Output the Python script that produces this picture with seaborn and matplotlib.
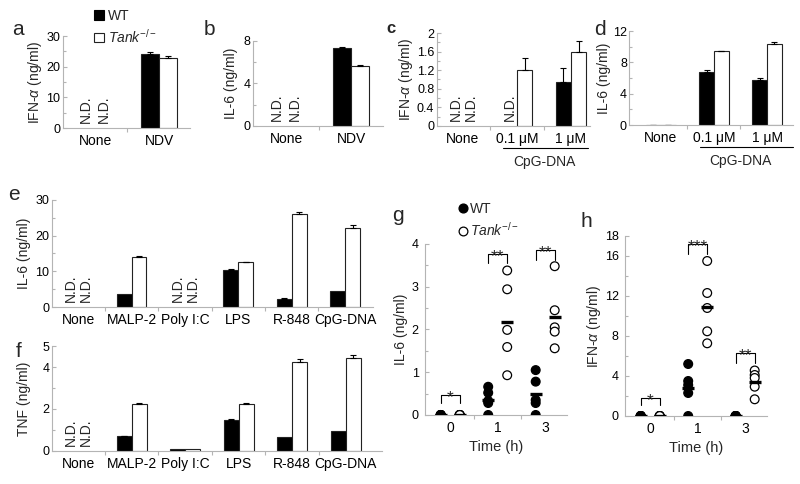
import numpy as np
import pandas as pd
import seaborn as sns
import matplotlib.pyplot as plt
from matplotlib.lines import Line2D
from matplotlib.patches import Patch
from matplotlib import transforms

sns.set_theme(style='ticks')
plt.rcParams['font.family'] = ['Liberation Sans', 'DejaVu Sans']
plt.rcParams['mathtext.fontset'] = 'custom'
plt.rcParams['mathtext.rm'] = 'Liberation Sans'
plt.rcParams['mathtext.it'] = 'Liberation Sans:italic'
plt.rcParams['mathtext.bf'] = 'Liberation Sans:bold'

nd = np.nan

# a, b: NDV
ndv_cats = ['None', 'NDV']
a_wt = [nd, 24.0]
a_ko = [nd, 23.0]
a_wt_err = [nd, 0.7]
a_ko_err = [nd, 0.5]
b_wt = [nd, 7.3]
b_ko = [nd, 5.6]
b_wt_err = [nd, 0.15]
b_ko_err = [nd, 0.12]

# c, d: CpG-DNA doses
cpg_cats = ['None', '0.1 μM', '1 μM']
c_wt = [nd, nd, 0.95]
c_ko = [nd, 1.2, 1.6]
c_wt_err = [nd, nd, 0.3]
c_ko_err = [nd, 0.26, 0.22]
d_wt = [0.0, 6.8, 5.8]
d_ko = [0.0, 9.4, 10.4]
d_wt_err = [0.0, 0.2, 0.15]
d_ko_err = [0.0, 0.06, 0.2]

# e, f: ligands
lig_cats = ['None', 'MALP-2', 'Poly I:C', 'LPS', 'R-848', 'CpG-DNA']
e_wt = [nd, 3.6, nd, 10.4, 2.2, 4.4]
e_ko = [nd, 13.9, nd, 12.5, 26.0, 22.2]
e_wt_err = [nd, nd, nd, 0.2, 0.2, nd]
e_ko_err = [nd, 0.5, nd, 0.2, 0.7, 0.7]
f_wt = [nd, 0.7, 0.08, 1.47, 0.65, 0.97]
f_ko = [nd, 2.22, 0.08, 2.22, 4.25, 4.45]
f_wt_err = [nd, 0.03, nd, 0.03, nd, nd]
f_ko_err = [nd, 0.07, nd, 0.07, 0.15, 0.12]

# g, h: time course, five mice per group
times = ['0', '1', '3']
g_wt = {'0': [0, 0, 0, 0, 0], '1': [0.66, 0.52, 0.33, 0.28, 0.0], '3': [1.05, 0.78, 0.35, 0.28, 0.0]}
g_ko = {'0': [0, 0, 0, 0, 0], '1': [3.38, 2.94, 1.99, 1.59, 0.93], '3': [3.48, 2.45, 2.05, 1.95, 1.56]}
h_wt = {'0': [0, 0, 0, 0, 0], '1': [5.2, 3.5, 3.1, 2.3, 0.0], '3': [0, 0, 0, 0, 0]}
h_ko = {'0': [0, 0, 0, 0, 0], '1': [15.5, 12.3, 10.8, 8.47, 7.27], '3': [4.55, 4.1, 3.8, 2.93, 1.67]}
g_sig = [('*', 0.46, 0.28), ('**', 3.77, 3.55), ('**', 3.86, 3.62)]
h_sig = [('*', 1.8, 1.1), ('***', 17.2, 16.2), ('**', 6.33, 5.33)]

AX_GRAY = '#b4b4b4'


def style_axes(ax, xlim, ylim, yticks, yminor, ncat, label_gap, ypad=2):
    ax.set_xlim(*xlim)
    ax.set_ylim(*ylim)
    ax.set_yticks(yticks)
    ax.set_yticks(yminor, minor=True)
    ax.set_xticks(np.arange(0.5, ncat - 0.5, 1.0), minor=True)
    sns.despine(ax=ax)
    for s in ['left', 'bottom']:
        ax.spines[s].set_color(AX_GRAY)
        ax.spines[s].set_linewidth(0.8)
    ax.tick_params(axis='both', which='both', color=AX_GRAY, labelcolor='black', width=0.8)
    ax.tick_params(axis='y', which='both', direction='in', length=3, pad=ypad, labelsize=9)
    ax.tick_params(axis='y', which='minor', length=2)
    ax.tick_params(axis='x', which='minor', direction='out', length=3)
    ax.tick_params(axis='x', which='major', length=0, pad=4, labelsize=10)
    # right edge of the rotated y label, in pixels left of the axis
    w = ax.get_position().width * 800
    ax.yaxis.set_label_coords(-label_gap / w, 0.5)


def bar_panel(ax, cats, wt, ko, wt_err, ko_err, ylabel):
    n = len(cats)
    df = pd.DataFrame({'cat': cats * 2, 'geno': ['WT'] * n + ['Tank'] * n, 'val': wt + ko})
    sns.barplot(data=df, x='cat', y='val', hue='geno', order=cats, hue_order=['WT', 'Tank'],
                palette={'WT': 'black', 'Tank': 'white'}, edgecolor='#222222', linewidth=0.8,
                width=0.56, gap=0, errorbar=None, legend=False, ax=ax)
    off = 0.14
    for vals, errs, s in [(wt, wt_err, -off), (ko, ko_err, off)]:
        for i in range(n):
            if np.isnan(vals[i]):
                ax.annotate('N.D.', xy=(i + s, 0), xytext=(0, 5), textcoords='offset pixels',
                            rotation=90, ha='center', va='bottom', fontsize=10)
            elif not np.isnan(errs[i]):
                ax.errorbar(i + s, vals[i], yerr=[[0], [errs[i]]], fmt='none', ecolor='black',
                            elinewidth=0.8, capsize=2.5, capthick=0.8)
    ax.set_xlabel('')
    ax.set_ylabel(ylabel, fontsize=10)


def cpg_bracket(ax, x0, x1):
    trans = transforms.blended_transform_factory(ax.transData, ax.transAxes)
    h = ax.get_position().height * 484
    ax.plot([x0, x1], [-22 / h, -22 / h], color='black', lw=0.8, transform=trans, clip_on=False)
    ax.text(1.5, -36 / h, 'CpG-DNA', transform=trans, ha='center', va='center', fontsize=10)


def dot_panel(ax, wt, ko, sig, ylabel):
    rows = []
    for t in times:
        rows += [(t, 'WT', v) for v in wt[t]]
        rows += [(t, 'Tank', v) for v in ko[t]]
    df = pd.DataFrame(rows, columns=['time', 'geno', 'val'])
    sns.stripplot(data=df, x='time', y='val', hue='geno', order=times, hue_order=['WT', 'Tank'],
                  palette={'WT': 'black', 'Tank': 'white'}, dodge=True, jitter=False,
                  size=6.3, edgecolor='black', linewidth=0.9, legend=False, ax=ax, zorder=3)
    for i, t in enumerate(times):
        for vals, s in [(wt[t], -0.2), (ko[t], 0.2)]:
            m = np.mean(vals)
            ax.hlines(m, i + s - 0.13, i + s + 0.13, color='black', lw=2.4, zorder=4)
        star, top, leg = sig[i]
        ax.plot([i - 0.2, i - 0.2, i + 0.2, i + 0.2], [leg, top, top, leg], color='black', lw=0.8)
        ax.annotate(star, xy=(i, top), xytext=(0, -7), textcoords='offset pixels',
                    ha='center', va='baseline', fontsize=12.5)
    ax.set_xlabel('Time (h)', fontsize=10.5)
    ax.set_ylabel(ylabel, fontsize=10)


fig = plt.figure(figsize=(8, 4.84), dpi=100)

ax_a = fig.add_axes([0.0788, 0.7355, 0.159, 0.190])
bar_panel(ax_a, ndv_cats, a_wt, a_ko, a_wt_err, a_ko_err, r'IFN-$\alpha$ (ng/ml)')
style_axes(ax_a, (-0.5, 1.48), (0, 30), [0, 10, 20, 30], [5, 15, 25], 2, 19)

ax_b = fig.add_axes([0.3163, 0.7397, 0.1625, 0.1756])
bar_panel(ax_b, ndv_cats, b_wt, b_ko, b_wt_err, b_ko_err, 'IL-6 (ng/ml)')
style_axes(ax_b, (-0.51, 1.49), (0, 8), [0, 4, 8], [2, 6], 2, 15)

ax_c = fig.add_axes([0.5463, 0.7397, 0.191, 0.1921])
bar_panel(ax_c, cpg_cats, c_wt, c_ko, c_wt_err, c_ko_err, r'IFN-$\alpha$ (ng/ml)')
style_axes(ax_c, (-0.48, 2.35), (0, 2), [0, 0.4, 0.8, 1.2, 1.6, 2],
           [0.2, 0.6, 1.0, 1.4, 1.8], 3, 22)
ax_c.set_yticklabels(['0', '0.4', '0.8', '1.2', '1.6', '2'])
cpg_bracket(ax_c, 0.74, 2.31)

ax_d = fig.add_axes([0.7863, 0.7417, 0.205, 0.1942])
bar_panel(ax_d, cpg_cats, d_wt, d_ko, d_wt_err, d_ko_err, 'IL-6 (ng/ml)')
style_axes(ax_d, (-0.6, 2.49), (0, 12), [0, 4, 8, 12], [2, 6, 10], 3, 18, ypad=1.5)
cpg_bracket(ax_d, 0.74, 2.49)

ax_e = fig.add_axes([0.065, 0.3657, 0.401, 0.2211])
bar_panel(ax_e, lig_cats, e_wt, e_ko, e_wt_err, e_ko_err, 'IL-6 (ng/ml)')
style_axes(ax_e, (-0.49, 5.52), (0, 30), [0, 10, 20, 30], [5, 15, 25], 6, 21)

ax_f = fig.add_axes([0.065, 0.0682, 0.4125, 0.2169])
bar_panel(ax_f, lig_cats, f_wt, f_ko, f_wt_err, f_ko_err, 'TNF (ng/ml)')
style_axes(ax_f, (-0.49, 5.68), (0, 5), [0, 2, 4, 5], [1, 3], 6, 21)

ax_g = fig.add_axes([0.5313, 0.1426, 0.1775, 0.3533])
dot_panel(ax_g, g_wt, g_ko, g_sig, 'IL-6 (ng/ml)')
style_axes(ax_g, (-0.53, 2.46), (0, 4), [0, 1, 2, 3, 4], [0.5, 1.5, 2.5, 3.5], 3, 17, ypad=4.5)

ax_h = fig.add_axes([0.7813, 0.1405, 0.1775, 0.3719])
dot_panel(ax_h, h_wt, h_ko, h_sig, r'IFN-$\alpha$ (ng/ml)')
style_axes(ax_h, (-0.53, 2.46), (0, 18), [0, 4, 8, 12, 16, 18], [2, 6, 10, 14], 3, 22,
           ypad=4.5)

# legends
ko_label = r'$\mathit{Tank}^{-/-}$'
bar_handles = [Patch(facecolor='black', edgecolor='black', lw=0.8),
               Patch(facecolor='white', edgecolor='#222222', lw=0.8)]
ax_a.legend(bar_handles, ['WT', ko_label], loc='upper left', bbox_to_anchor=(0.2, 1.36),
            frameon=False, fontsize=10, handlelength=0.7, handleheight=0.7,
            handletextpad=0.3, labelspacing=0.35, borderaxespad=0)
dot_handles = [Line2D([], [], ls='none', marker='o', markersize=6.3, markerfacecolor='black',
                      markeredgecolor='black'),
               Line2D([], [], ls='none', marker='o', markersize=6.3, markerfacecolor='white',
                      markeredgecolor='black', markeredgewidth=0.9)]
ax_g.legend(dot_handles, ['WT', ko_label], loc='upper left', bbox_to_anchor=(0.2, 1.28),
            frameon=False, fontsize=10, handlelength=0.6, handletextpad=0.2,
            labelspacing=0.35, borderaxespad=0)

# panel letters
letters = [('a', 12, 35, 15, 'normal'), ('b', 204, 35, 15, 'normal'), ('c', 386, 33, 12, 'bold'),
           ('d', 594, 35, 15, 'normal'), ('e', 8, 200, 15, 'normal'), ('f', 16, 357, 15, 'normal'),
           ('g', 392, 221, 15, 'normal'), ('h', 580, 227, 15, 'normal')]
for s, x, y, fs, fw in letters:
    fig.text(x / 800, 1 - y / 484, s, fontsize=fs, fontweight=fw, ha='left', va='baseline')

fig.savefig('out.png', dpi=100)
